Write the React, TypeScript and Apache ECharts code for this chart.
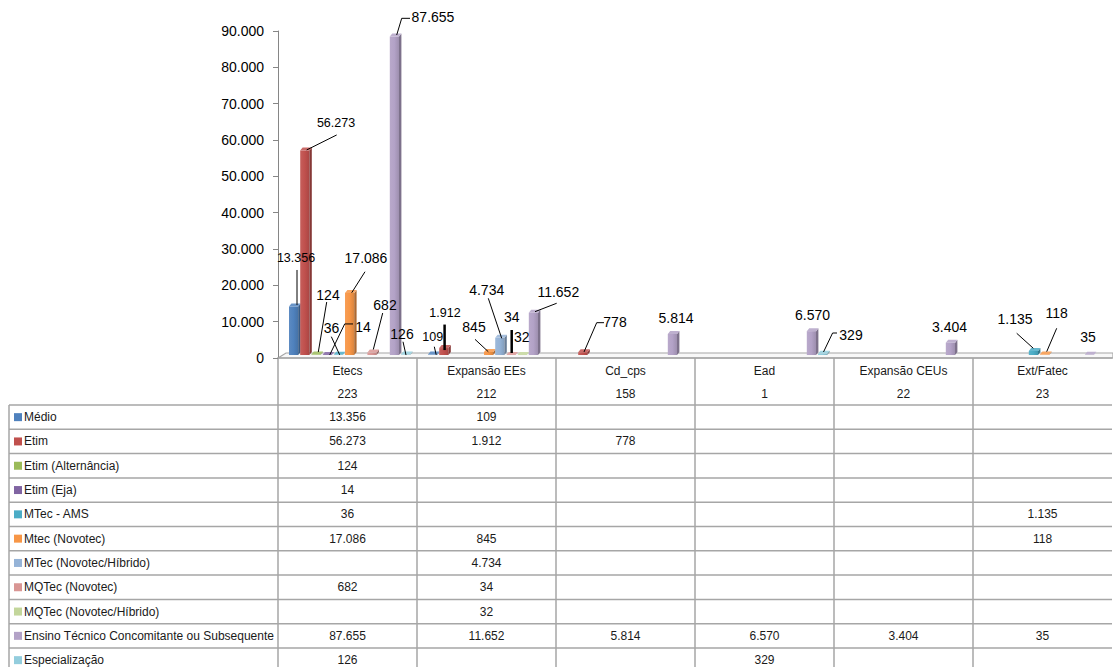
import React, { useEffect, useRef } from "react";
import * as echarts from "echarts";

// ---------- data ----------
const categories = ["Etecs", "Expansão EEs", "Cd_cps", "Ead", "Expansão CEUs", "Ext/Fatec"];
const categoryCounts = [223, 212, 158, 1, 22, 23];

const seriesNames = [
  "Médio",
  "Etim",
  "Etim (Alternância)",
  "Etim (Eja)",
  "MTec - AMS",
  "Mtec (Novotec)",
  "MTec (Novotec/Híbrido)",
  "MQTec (Novotec)",
  "MQTec (Novotec/Híbrido)",
  "Ensino Técnico Concomitante ou Subsequente",
  "Especialização",
];

const medio = [13356, 109, null, null, null, null];
const etim = [56273, 1912, 778, null, null, null];
const etimAlternancia = [124, null, null, null, null, null];
const etimEja = [14, null, null, null, null, null];
const mtecAms = [36, null, null, null, null, 1135];
const mtecNovotec = [17086, 845, null, null, null, 118];
const mtecHibrido = [null, 4734, null, null, null, null];
const mqtecNovotec = [682, 34, null, null, null, null];
const mqtecHibrido = [null, 32, null, null, null, null];
const ensinoTecnico = [87655, 11652, 5814, 6570, 3404, 35];
const especializacao = [126, null, null, 329, null, null];

const seriesValues = [
  medio,
  etim,
  etimAlternancia,
  etimEja,
  mtecAms,
  mtecNovotec,
  mtecHibrido,
  mqtecNovotec,
  mqtecHibrido,
  ensinoTecnico,
  especializacao,
];

const yMin = 0;
const yMax = 90000;
const yInterval = 10000;

// ---------- styles / layout ----------
const seriesColors = [
  "#4F81BD",
  "#C0504D",
  "#9BBB59",
  "#8064A2",
  "#4BACC6",
  "#F79646",
  "#95B3D7",
  "#D99694",
  "#C3D69B",
  "#B3A2C7",
  "#93CDDD",
];

// label text offset (t) and leader line points relative to bar top-centre
const labelPlacement = [
  { s: 0, c: 0, t: [2.4, -48.5], line: [[3.4, -36.5], [3.4, -1.5]], small: true },
  { s: 1, c: 0, t: [31.2, -27.6], line: [[31.9, -15.6], [1.9, -0.6]], small: true },
  { s: 2, c: 0, t: [12, -59.5], line: [[10.7, -52.5], [2.3, -2.5]] },
  { s: 3, c: 0, t: [35.8, -28], line: [[25.8, -31], [17.5, -31], [2.5, 0]] },
  { s: 4, c: 0, t: [-6.9, -26.4], line: [[-7.1, -18.2], [1.3, 0]] },
  { s: 5, c: 0, t: [16.4, -34.9], line: [[15.4, -21.2], [2.1, -0.2]] },
  { s: 7, c: 0, t: [13, -47.5], line: [[10.7, -39.5], [1.3, -3]] },
  { s: 9, c: 0, t: [38.6, -19.2], line: [[15.6, -18.2], [7.3, -18.2], [2.3, -1.5]] },
  { s: 10, c: 0, t: [-3.6, -20.5], line: [[-2.6, -12.8], [0.4, 0.5]] },
  { s: 0, c: 1, t: [0.1, -17.6], line: [[1.7, -7.9], [3.6, 0.2]], small: true },
  { s: 1, c: 1, t: [1.2, -35], line: [[0.8, -23.5], [0.8, 2]], small: true, thick: true },
  { s: 5, c: 1, t: [-14.6, -25.2], line: [[-13.6, -12.6], [-0.3, -0.2]] },
  { s: 6, c: 1, t: [-13.1, -47.8], line: [[-11.5, -39.5], [1.9, 0.5]] },
  { s: 7, c: 1, t: [0.7, -37.6], line: [[0.7, -24.9], [0.7, -1.9]], thick: true },
  { s: 8, c: 1, t: [-0.5, -17.6] },
  { s: 9, c: 1, t: [24.9, -21], line: [[23.3, -9.4], [1.6, -1]] },
  { s: 1, c: 2, t: [32.2, -30.2], line: [[21.2, -29.5], [13.9, -29.5], [1.2, -0.2]] },
  { s: 9, c: 2, t: [3.6, -16.3] },
  { s: 9, c: 3, t: [1.1, -16.5] },
  { s: 10, c: 3, t: [28.4, -19.1], line: [[14.4, -20.8], [10, -20.8], [0.9, -1.8]] },
  { s: 9, c: 4, t: [-0.8, -15.2] },
  { s: 4, c: 5, t: [-18.4, -32], line: [[-16.7, -17.6], [-0.1, -2.6]] },
  { s: 5, c: 5, t: [12.1, -41.3], line: [[12.1, -26.3], [2.1, -2.9]] },
  { s: 9, c: 5, t: [-1.4, -18.2] },
];

const W = 1113;
const H = 667;
const GRID_LEFT = 278;
const GRID_RIGHT_X = 1112;
const GRID_TOP = 31;
const AXIS_Y = 358;
const BAND = (GRID_RIGHT_X - GRID_LEFT) / categories.length;
const TABLE_LEFT = 9;
const HEADER_BOTTOM = 405;
const ROW_H = 24.3;
const FONT = '"Liberation Sans", Arial, sans-serif';

const fmt = (v: number) => String(v).replace(/\B(?=(\d{3})+(?!\d))/g, ".");

function shade(hex: string, f: number) {
  const n = parseInt(hex.slice(1), 16);
  let r = (n >> 16) & 255,
    g = (n >> 8) & 255,
    b = n & 255;
  if (f >= 0) {
    r = r + (255 - r) * f;
    g = g + (255 - g) * f;
    b = b + (255 - b) * f;
  } else {
    r = r * (1 + f);
    g = g * (1 + f);
    b = b * (1 + f);
  }
  return `rgb(${Math.round(r)},${Math.round(g)},${Math.round(b)})`;
}

function makeRenderItem(sIdx: number) {
  return (params: any, api: any) => {
    const c = api.value(0);
    const v = api.value(1);
    const band = api.size([1, 0])[0];
    const k = band / 139;
    const zero = api.coord([c, 0]);
    const left = zero[0] - band / 2 + 11 * k + sIdx * 11.2 * k;
    const w = 9.2 * k;
    const dx = 2.4 * k;
    const dy = 3;
    const base = zero[1] - 3;
    const top = api.coord([c, v])[1] - 3;
    const col = seriesColors[sIdx];
    const children: any[] = [];
    if (base - top > 0.3) {
      children.push({
        type: "rect",
        shape: { x: left, y: top, width: w, height: base - top },
        style: {
          fill: new echarts.graphic.LinearGradient(0, 0, 1, 0, [
            { offset: 0, color: shade(col, 0.08) },
            { offset: 0.5, color: col },
            { offset: 1, color: shade(col, -0.12) },
          ]),
        },
      });
      children.push({
        type: "polygon",
        shape: {
          points: [
            [left + w, top],
            [left + w + dx, top - dy],
            [left + w + dx, base - dy],
            [left + w, base],
          ],
        },
        style: { fill: shade(col, -0.3) },
      });
    }
    children.push({
      type: "polygon",
      shape: {
        points: [
          [left, top],
          [left + dx, top - dy],
          [left + w + dx, top - dy],
          [left + w, top],
        ],
      },
      style: { fill: shade(col, 0.15) },
    });
    const cx = left + w / 2;
    const lp = labelPlacement.find((p) => p.s === sIdx && p.c === c);
    if (lp) {
      if (lp.line) {
        children.push({
          type: "polyline",
          shape: { points: lp.line.map((p) => [cx + p[0], top + p[1]]) },
          style: { stroke: "#000", lineWidth: lp.thick ? 2.5 : 1, fill: null },
          z2: 99,
        });
      }
      children.push({
        type: "text",
        z2: 100,
        style: {
          x: cx + lp.t[0],
          y: top + lp.t[1],
          text: fmt(v),
          fill: "#000",
          font: `${lp.small ? 12.5 : 14}px ${FONT}`,
          align: "center",
          verticalAlign: "middle",
          textAlign: "center",
          textVerticalAlign: "middle",
        },
      });
    }
    return { type: "group", children };
  };
}

function buildTable() {
  const els: any[] = [];
  const tableBottom = HEADER_BOTTOM + ROW_H * seriesNames.length;
  const ls = { stroke: "#a6a6a6", lineWidth: 1.5 };
  for (let k = 0; k < categories.length; k++) {
    const x = GRID_LEFT + k * BAND;
    els.push({ type: "line", shape: { x1: x, y1: AXIS_Y, x2: x, y2: tableBottom }, style: ls });
  }
  els.push({
    type: "line",
    shape: { x1: TABLE_LEFT, y1: HEADER_BOTTOM, x2: TABLE_LEFT, y2: tableBottom },
    style: ls,
  });
  for (let r = 0; r <= seriesNames.length; r++) {
    const y = HEADER_BOTTOM + r * ROW_H;
    els.push({ type: "line", shape: { x1: TABLE_LEFT, y1: y, x2: GRID_RIGHT_X, y2: y }, style: ls });
  }
  const txt = (x: number, y: number, text: string, align = "center") => ({
    type: "text",
    style: {
      x,
      y,
      text,
      fill: "#1a1a1a",
      font: `12px ${FONT}`,
      align,
      verticalAlign: "middle",
      textAlign: align,
      textVerticalAlign: "middle",
    },
  });
  categories.forEach((cat, k) => {
    const cx = GRID_LEFT + (k + 0.5) * BAND;
    els.push(txt(cx, 371, cat));
    els.push(txt(cx, 394, String(categoryCounts[k])));
  });
  seriesNames.forEach((name, r) => {
    const cy = HEADER_BOTTOM + (r + 0.5) * ROW_H;
    els.push({
      type: "rect",
      shape: { x: 14, y: cy - 4, width: 8, height: 8 },
      style: { fill: seriesColors[r] },
    });
    els.push(txt(24, cy, name, "left"));
    seriesValues[r].forEach((v, k) => {
      if (v == null) return;
      els.push(txt(GRID_LEFT + (k + 0.5) * BAND, cy, fmt(v)));
    });
  });
  return els;
}

export default function App() {
  const ref = useRef<HTMLDivElement>(null);
  useEffect(() => {
    if (!ref.current) return;
    const chart = echarts.init(ref.current, null, { renderer: "svg" });
    const floor = {
      type: "polygon",
      z: 0,
      shape: {
        points: [
          [GRID_LEFT, AXIS_Y],
          [GRID_LEFT + 8, AXIS_Y - 5],
          [W, AXIS_Y - 5],
          [W, AXIS_Y],
        ],
      },
      style: { fill: "#f8f8f8", stroke: "#a6a6a6", lineWidth: 1.2 },
    };
    const option: any = {
      animation: false,
      backgroundColor: "#ffffff",
      grid: {
        left: GRID_LEFT,
        right: W - GRID_RIGHT_X,
        top: GRID_TOP,
        bottom: H - AXIS_Y,
        containLabel: false,
      },
      xAxis: {
        type: "category",
        data: categories,
        boundaryGap: true,
        axisLine: { show: true, lineStyle: { color: "#a6a6a6", width: 1.5 } },
        axisTick: { show: false },
        axisLabel: { show: false },
        splitLine: { show: false },
      },
      yAxis: {
        type: "value",
        min: yMin,
        max: yMax,
        interval: yInterval,
        axisLine: { show: true, lineStyle: { color: "#868686", width: 1 } },
        axisTick: { show: true, inside: false, length: 5, lineStyle: { color: "#868686" } },
        splitLine: { show: false },
        axisLabel: {
          margin: 14,
          color: "#000",
          fontSize: 14,
          fontFamily: FONT,
          formatter: (v: number) => fmt(v),
        },
      },
      graphic: [floor, ...buildTable()],
      series: seriesNames.map((name, sIdx) => ({
        type: "custom",
        name,
        z: 2,
        clip: false,
        renderItem: makeRenderItem(sIdx),
        encode: { x: 0, y: 1 },
        data: seriesValues[sIdx]
          .map((v, i) => (v == null ? null : [i, v]))
          .filter((d) => d !== null),
      })),
    };
    chart.setOption(option);
    return () => chart.dispose();
  }, []);
  return (
    <div
      ref={ref}
      style={{ position: "fixed", left: 0, top: 0, width: W, height: H, background: "#fff" }}
    />
  );
}
